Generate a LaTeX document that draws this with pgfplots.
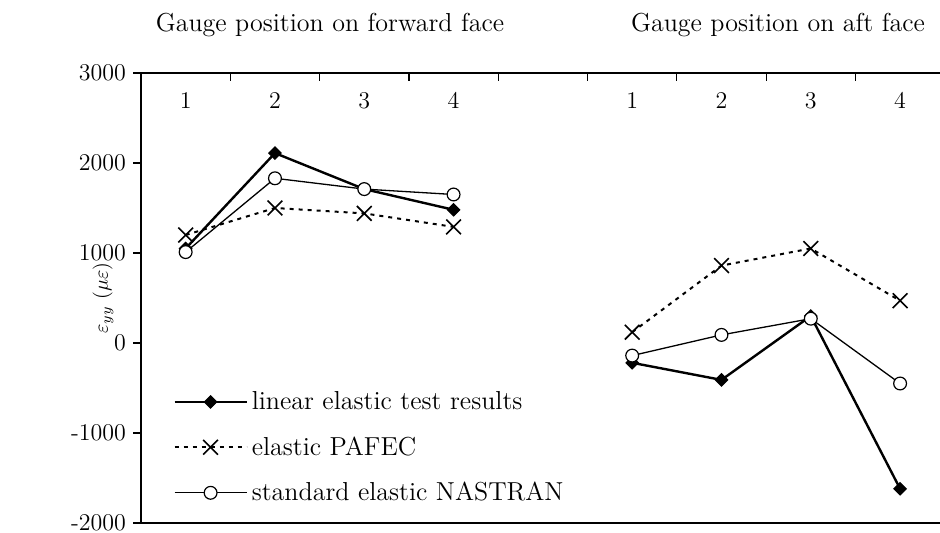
\documentclass[border=0pt]{standalone}
\usepackage{pgfplots}
\pgfplotsset{compat=1.18}
\begin{document}
\begin{tikzpicture}[x=1pt,y=1pt]
\begin{axis}[
  at={(70.5pt,5pt)}, anchor=south west,
  width=399.5pt, height=225pt, scale only axis,
  xmin=0.5, xmax=9.447, ymin=-2000, ymax=3000,
  axis x line*=top, axis y line*=left,
  axis line style={line width=0.75pt, -},
  xtick={1.5,2.5,...,8.5}, xticklabels={},
  xtick align=inside,
  extra x ticks={1,2,3,4,6,7,8,9},
  extra x tick labels={1,2,3,4,1,2,3,4},
  extra x tick style={major tick length=0pt, xticklabel style={anchor=north, yshift=-6pt}},
  ytick={-2000,-1000,0,1000,2000,3000},
  yticklabels={-2000,-1000,0,1000,2000,3000},
  yticklabel style={anchor=east},
  ytick align=outside,
  major tick length=4pt,
  tick style={black, line width=0.6pt},
  tick label style={font=\fontsize{12}{14}\selectfont},
  ylabel={$\varepsilon_{yy}$ ($\mu\varepsilon$)},
  every axis y label/.style={at={(axis description cs:-0.0476,0.5)}, rotate=90, anchor=center, font=\fontsize{10}{12}\selectfont},
  unbounded coords=jump,
  clip=false,
  legend cell align=left,
  legend image code/.code={\draw[mark repeat=2,mark phase=2] plot coordinates {(0pt,0pt) (18pt,0pt) (36pt,0pt)};},
  legend style={draw=none, fill=none, at={(axis description cs:0,0)}, anchor=south west, xshift=16pt, yshift=7.5pt, row sep=8pt, font=\fontsize{13}{15}\selectfont, inner sep=0pt},
]
\addplot[black, line width=1.2pt, mark=square*, mark size=2.2pt, mark options={rotate=45, solid, fill=black, line width=0.5pt}]
  coordinates {(1,1050) (2,2110) (3,1710) (4,1480) (5,nan) (6,-220) (7,-410) (8,300) (9,-1620)};
\addlegendentry{linear elastic test results}
\addplot[black, line width=1pt, dash pattern=on 2pt off 2.5pt, mark=x, mark size=5.2pt, mark options={solid, line width=0.8pt}]
  coordinates {(1,1200) (2,1500) (3,1440) (4,1290) (5,nan) (6,120) (7,860) (8,1050) (9,470)};
\addlegendentry{elastic PAFEC}
\addplot[black, line width=0.65pt, mark=*, mark size=3.2pt, mark options={solid, fill=white, line width=0.6pt}]
  coordinates {(1,1010) (2,1830) (3,1710) (4,1650) (5,nan) (6,-140) (7,90) (8,270) (9,-450)};
\addlegendentry{standard elastic NASTRAN}
\draw[line width=0.75pt] (rel axis cs:0,0) -- (rel axis cs:1,0);
\end{axis}
\node[anchor=base, font=\fontsize{13}{15}\selectfont] at (165,250.5) {Gauge position on forward face};
\node[anchor=base, font=\fontsize{13}{15}\selectfont] at (389,250.5) {Gauge position on aft face};
\pgfresetboundingbox
\path[use as bounding box] (0,0) rectangle (470,266.5);
\end{tikzpicture}
\end{document}
